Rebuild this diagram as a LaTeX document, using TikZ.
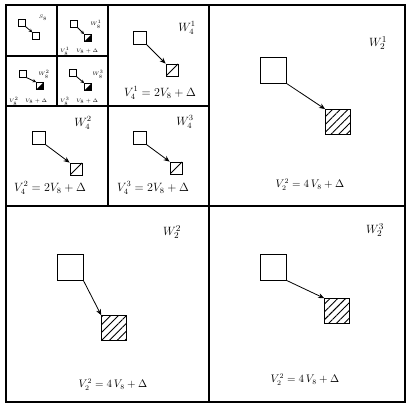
\documentclass[tikz,border=0pt]{standalone}
\usepackage{fontspec}
\setmainfont{Liberation Serif}
\usetikzlibrary{arrows.meta, patterns.meta}

\begin{document}
\begin{tikzpicture}[
  x=1pt, y=-1pt,
  grid/.style={line width=1.3pt},
  srcL/.style={draw, semithick, minimum size=26pt, inner sep=0pt},
  dstL/.style={draw, semithick, minimum size=25pt, inner sep=0pt,
               pattern={Lines[angle=45, distance=5.5pt, line width=0.9pt]}},
  srcM/.style={draw, semithick, minimum size=13pt, inner sep=0pt},
  dstM/.style={draw, thick, minimum size=12pt, inner sep=0pt,
               path picture={\draw[thick] (path picture bounding box.south west)
                 -- (path picture bounding box.north east);}},
  srcS/.style={draw, minimum size=7pt, inner sep=0pt},
  dstS/.style={draw, thick, minimum size=7pt, inner sep=0pt,
               path picture={\fill (path picture bounding box.south west)
                 -- (path picture bounding box.south east)
                 -- (path picture bounding box.north east) -- cycle;}},
  lblL/.style={font=\fontsize{10.5}{12}\selectfont},
  lblW/.style={font=\fontsize{12.5}{14}\selectfont},
  lblM/.style={font=\fontsize{12}{14}\selectfont},
  lblS/.style={font=\fontsize{4.5}{5}\selectfont, inner sep=0pt},
  ar/.style={-{Stealth[length=6pt, width=5pt]}, thick},
  arS/.style={-{Stealth[length=3.5pt, width=3.5pt]}, thick}
]
\useasboundingbox (0,0) rectangle (409,403);
% grid of windows
\draw[grid] (6,5) rectangle (405,402);
\draw[grid] (209,5) -- (209,402);
\draw[grid] (6,206) -- (405,206);
\draw[grid] (108,5) -- (108,206);
\draw[grid] (6,106) -- (209,106);
\draw[grid] (57,5) -- (57,106);
\draw[grid] (6,56) -- (108,56);

% level 2 windows
\node[srcL] (a1) at (273,70) {};
\node[dstL] (b1) at (338,122) {};
\node[lblW] (w21) at (378,43) {$W_2^1$};
\node[lblL] (e21) at (310,185) {$V_2^2 = 4\,V_8 + \Delta$};
\draw[ar] (a1.south east) -- (b1.north west);

\node[srcL] (a2) at (70,267) {};
\node[dstL] (b2) at (114,328) {};
\node[lblW] (w22) at (172,232) {$W_2^2$};
\node[lblL] (e22) at (113,385) {$V_2^2 = 4\,V_8 + \Delta$};
\draw[ar] (a2.south east) -- (b2.north west);

\node[srcL] (a3) at (273,267) {};
\node[dstL] (b3) at (337,311) {};
\node[lblW] (w23) at (375,230) {$W_2^3$};
\node[lblL] (e23) at (305,380) {$V_2^2 = 4\,V_8 + \Delta$};
\draw[ar] (a3.south east) -- (b3.north west);

% level 4 windows
\node[srcM] (c1) at (140,38) {};
\node[dstM] (d1) at (172,70) {};
\node[lblM] (w41) at (187,28) {$W_4^1$};
\node[lblM] (e41) at (160,93) {$V_4^1 = 2V_8 + \Delta$};
\draw[ar] (c1.south east) -- (d1.north west);

\node[srcM] (c2) at (39,138) {};
\node[dstM] (d2) at (76,169) {};
\node[lblM] (w42) at (83,123) {$W_4^2$};
\node[lblM] (e42) at (50,188) {$V_4^2 = 2V_8 + \Delta$};
\draw[ar] (c2.south east) -- (d2.north west);

\node[srcM] (c3) at (140,138) {};
\node[dstM] (d3) at (176,168) {};
\node[lblM] (w43) at (185,122) {$W_4^3$};
\node[lblM] (e43) at (153,188) {$V_4^3 = 2V_8 + \Delta$};
\draw[ar] (c3.south east) -- (d3.north west);

% level 8 windows
\node[srcS] (s0) at (22,23) {};
\node[srcS] (t0) at (36,36) {};
\node[lblS] (l0) at (43,18) {$S_8$};
\draw[arS] (s0.south east) -- (t0.north west);

\node[srcS] (s1) at (74,24) {};
\node[dstS] (t1) at (88,38) {};
\node[lblS] (w81) at (96,24) {$W_8^1$};
\node[lblS, anchor=west] (v81) at (60,51) {$V_8^1\quad\; V_8+\Delta$};
\draw[arS] (s1.south east) -- (t1.north west);

\node[srcS] (s2) at (23,74) {};
\node[dstS] (t2) at (40,86) {};
\node[lblS] (w82) at (44,74) {$W_8^2$};
\node[lblS, anchor=west] (v82) at (9,101) {$V_8^2\quad\; V_8+\Delta$};
\draw[arS] (s2.south east) -- (t2.north west);

\node[srcS] (s3) at (73,73) {};
\node[dstS] (t3) at (88,87) {};
\node[lblS] (w83) at (98,74) {$W_8^3$};
\node[lblS, anchor=west] (v83) at (60,101) {$V_8^3\quad\; V_8+\Delta$};
\draw[arS] (s3.south east) -- (t3.north west);
\end{tikzpicture}
\end{document}
